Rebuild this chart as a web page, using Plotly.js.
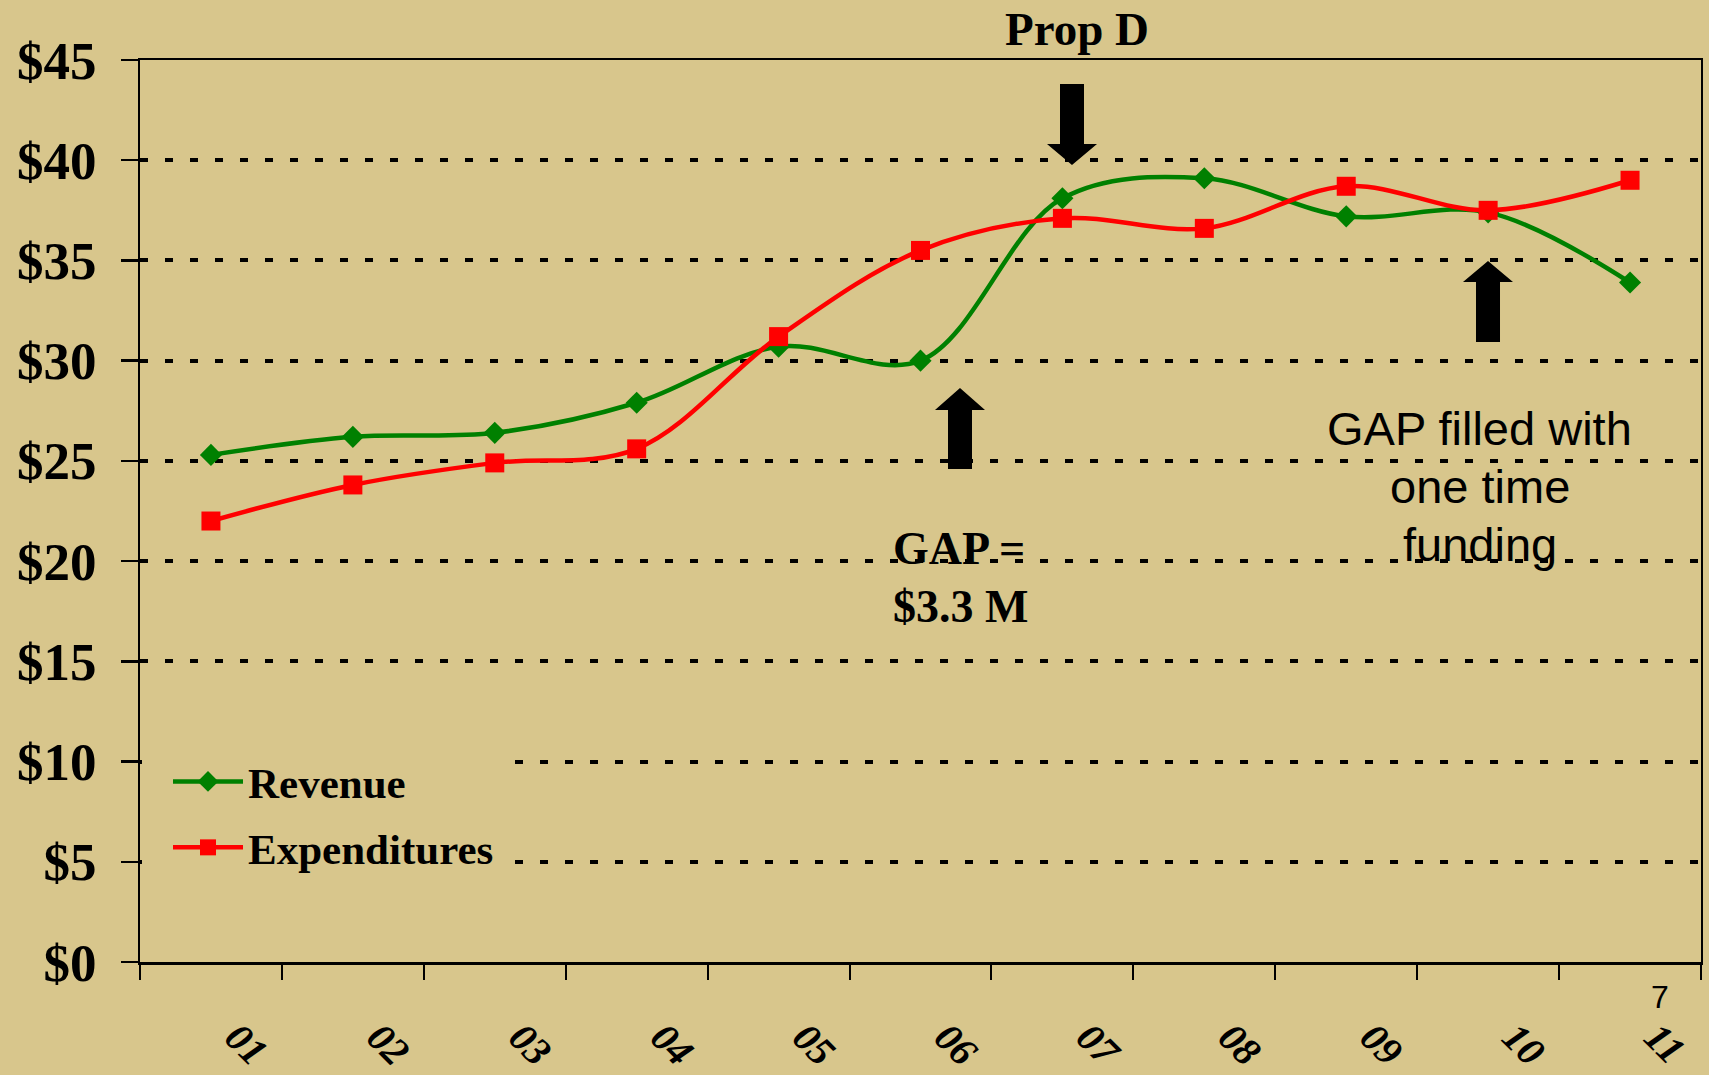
<!DOCTYPE html>
<html>
<head>
<meta charset="utf-8">
<script src="https://cdn.plot.ly/plotly-3.0.1.min.js"></script>
<style>
  html, body { margin: 0; padding: 0; background: #D8C68C; }
  #chart { width: 1709px; height: 1075px; }
</style>
</head>
<body>
<div id="chart"></div>
<script>
// ---- data ----
const categories = ['01', '02', '03', '04', '05', '06', '07', '08', '09', '10', '11'];
const revenue = [25.3, 26.2, 26.4, 27.9, 30.7, 30.0, 38.1, 39.1, 37.2, 37.4, 33.9];
const expenditures = [22.0, 23.8, 24.9, 25.6, 31.2, 35.5, 37.1, 36.6, 38.7, 37.5, 39.0];
const seriesNames = ['Revenue', 'Expenditures'];

// ---- layout helpers (pixel -> paper) ----
const W = 1709, H = 1075;
const M = { l: 140, r: 8, t: 60, b: 113 };
const PW = W - M.l - M.r, PH = H - M.t - M.b;
const px = x => ((x - M.l) / PW).toFixed(5);
const py = y => ((H - M.b - y) / PH).toFixed(5);
const P = (x, y) => px(x) + ',' + py(y);

function arrowPath(cx, tip, headBase, tail, shaftHalf, headHalf) {
  return 'M' + P(cx - shaftHalf, tail) +
    ' L' + P(cx - shaftHalf, headBase) +
    ' L' + P(cx - headHalf, headBase) +
    ' L' + P(cx, tip) +
    ' L' + P(cx + headHalf, headBase) +
    ' L' + P(cx + shaftHalf, headBase) +
    ' L' + P(cx + shaftHalf, tail) + ' Z';
}

const BG = '#D8C68C';
const serif = 'Liberation Serif, Times New Roman, serif';
const sans = 'Liberation Sans, Arial, sans-serif';

const traces = [
  {
    type: 'scatter', mode: 'lines+markers', name: seriesNames[0],
    x: categories, y: revenue, legendgroup: 'a',
    line: { color: '#008000', width: 4.5, shape: 'spline', smoothing: 1 },
    marker: { symbol: 'diamond', size: 17, color: '#008000' }
  },
  {
    type: 'scatter', mode: 'lines+markers', name: seriesNames[1],
    x: categories, y: expenditures, legendgroup: 'b',
    line: { color: '#FF0000', width: 4.5, shape: 'spline', smoothing: 1 },
    marker: { symbol: 'square', size: 19, color: '#FF0000' }
  }
];

const layout = {
  width: W, height: H,
  margin: M,
  paper_bgcolor: BG, plot_bgcolor: BG,
  showlegend: true,
  legend: {
    x: px(168), y: py(747), xanchor: 'left', yanchor: 'top',
    bgcolor: BG, borderwidth: 0, itemwidth: 70,
    traceorder: 'grouped', tracegroupgap: 7,
    font: { family: serif, size: 43, weight: 'bold', color: '#000' }
  },
  xaxis: {
    type: 'category', range: [-0.5, 10.5],
    tickson: 'boundaries', ticks: 'outside', ticklen: 15, tickwidth: 2, tickcolor: '#000',
    showline: true, linecolor: '#000', linewidth: 2.5, mirror: true,
    showgrid: false, zeroline: false,
    tickangle: 45, ticklabelstandoff: 33, ticklabelshift: 26,
    tickfont: { family: serif, size: 40, style: 'italic', weight: 'bold', color: '#000' }
  },
  yaxis: {
    range: [0, 45], dtick: 5, tick0: 0, tickprefix: '$',
    ticks: 'outside', ticklen: 17, tickwidth: 2.5, tickcolor: '#000',
    showline: true, linecolor: '#000', linewidth: 2, mirror: true,
    showgrid: true, gridcolor: '#000', gridwidth: 4, griddash: '8px,17px',
    zeroline: false, ticklabelstandoff: 14,
    tickfont: { family: serif, size: 53, weight: 'bold', color: '#000' }
  },
  shapes: [
    // background patch so the legend area hides the gridlines right up to the y axis
    { type: 'rect', xref: 'paper', yref: 'paper', x0: px(142), x1: px(180), y0: py(745), y1: py(880),
      fillcolor: BG, line: { width: 0 }, layer: 'above' },
    { type: 'path', xref: 'paper', yref: 'paper', path: arrowPath(1072, 165, 144, 84, 12, 25), fillcolor: '#000', line: { width: 0 } },
    { type: 'path', xref: 'paper', yref: 'paper', path: arrowPath(960, 388, 410, 469, 12, 25), fillcolor: '#000', line: { width: 0 } },
    { type: 'path', xref: 'paper', yref: 'paper', path: arrowPath(1488, 261, 282, 342, 12, 25), fillcolor: '#000', line: { width: 0 } }
  ],
  annotations: [
    { xref: 'paper', yref: 'paper', x: px(1077), y: py(29), xanchor: 'center', yanchor: 'middle', showarrow: false,
      text: 'Prop D', font: { family: serif, size: 47, weight: 'bold', color: '#000' } },
    { xref: 'paper', yref: 'paper', x: px(891), y: py(548), xanchor: 'left', yanchor: 'middle', showarrow: false,
      text: 'GAP =', font: { family: serif, size: 46, weight: 'bold', color: '#000' } },
    { xref: 'paper', yref: 'paper', x: px(891), y: py(607), xanchor: 'left', yanchor: 'middle', showarrow: false,
      text: '$3.3 M', font: { family: serif, size: 46, weight: 'bold', color: '#000' } },
    { xref: 'paper', yref: 'paper', x: px(1480), y: py(429), xanchor: 'center', yanchor: 'middle', showarrow: false,
      text: 'GAP filled with', font: { family: sans, size: 47, color: '#000' } },
    { xref: 'paper', yref: 'paper', x: px(1480), y: py(487), xanchor: 'center', yanchor: 'middle', showarrow: false,
      text: 'one time', font: { family: sans, size: 47, color: '#000' } },
    { xref: 'paper', yref: 'paper', x: px(1480), y: py(545), xanchor: 'center', yanchor: 'middle', showarrow: false,
      text: 'funding', font: { family: sans, size: 47, color: '#000' } },
    { xref: 'paper', yref: 'paper', x: px(1660), y: py(997), xanchor: 'center', yanchor: 'middle', showarrow: false,
      text: '7', font: { family: sans, size: 32, color: '#000' } }
  ]
};

Plotly.newPlot('chart', traces, layout, { displayModeBar: false, staticPlot: true });
</script>
</body>
</html>
